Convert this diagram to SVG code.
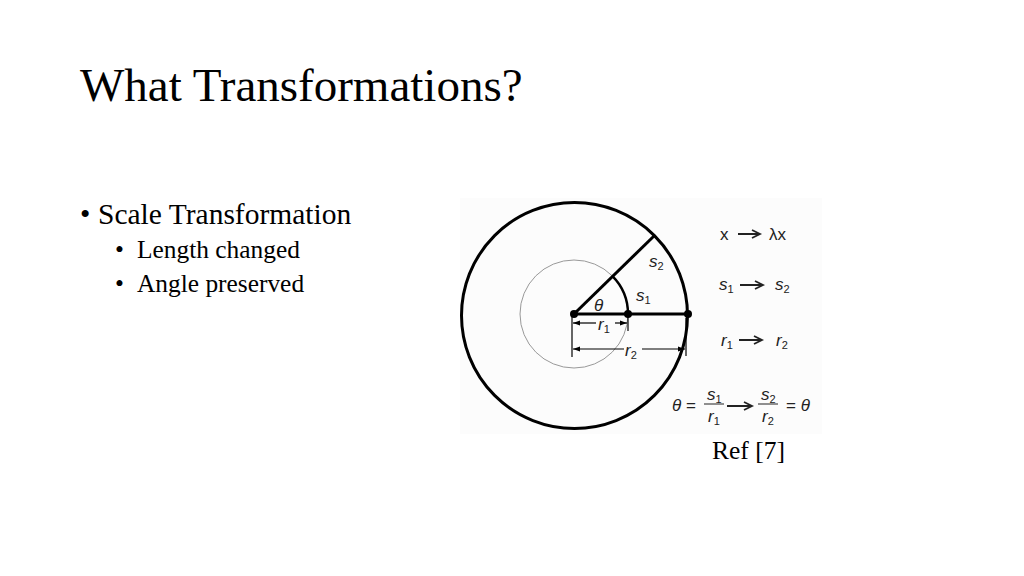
<svg xmlns="http://www.w3.org/2000/svg" width="1024" height="576" viewBox="0 0 1024 576">
<style>
.serif{font-family:"Liberation Serif","Times New Roman",serif;fill:#000}
.sans{font-family:"Liberation Sans",Arial,sans-serif;fill:#222;font-size:17px}
.it{font-style:italic}
.sub{font-size:11px;font-style:normal}
.thin{stroke:#000;stroke-width:1.2;fill:none}
.arr{stroke:#222;stroke-width:1.8;fill:none}
</style>
<defs>
<marker id="ah" viewBox="0 0 10 10" refX="10" refY="5" markerWidth="7" markerHeight="7" orient="auto-start-reverse" markerUnits="userSpaceOnUse">
<path d="M0,1.5 L10,5 L0,8.5 Z" fill="#000"/>
</marker>
</defs>
<rect width="1024" height="576" fill="#fff"/>
<text class="serif" x="80" y="101" font-size="47">What Transformations?</text>
<g id="bullets" class="serif">
<text x="80" y="224" font-size="29.5">•</text>
<text x="98" y="224" font-size="29.5">Scale Transformation</text>
<text x="115" y="258" font-size="25.4">•</text>
<text x="137" y="258" font-size="25.4">Length changed</text>
<text x="115" y="292" font-size="25.4">•</text>
<text x="137" y="292" font-size="25.4">Angle preserved</text>
</g>
<g id="figure">
<rect x="460" y="198" width="362" height="236" fill="#fcfcfc"/>
<circle cx="574.5" cy="315.5" r="113" fill="none" stroke="#000" stroke-width="3"/>
<circle cx="574" cy="314" r="54" fill="none" stroke="#999" stroke-width="1"/>
<path d="M612.2,275.8 A54,54 0 0 1 628,314" fill="none" stroke="#000" stroke-width="2.5"/>
<line x1="574" y1="314" x2="654" y2="236" stroke="#000" stroke-width="3"/>
<line x1="574" y1="314" x2="688" y2="314" stroke="#000" stroke-width="3"/>
<circle cx="574" cy="314" r="4" fill="#000"/>
<circle cx="628" cy="314" r="4" fill="#000"/>
<circle cx="688" cy="314" r="4" fill="#000"/>
<line x1="572" y1="314" x2="572" y2="357" class="thin"/>
<line x1="628" y1="316" x2="628" y2="331" class="thin"/>
<line x1="686" y1="318" x2="686" y2="356" class="thin"/>
</g>
<g id="connectors">
<line x1="573" y1="323" x2="596" y2="323" class="thin" marker-start="url(#ah)"/>
<line x1="615" y1="323" x2="627" y2="323" class="thin" marker-end="url(#ah)"/>
<line x1="573" y1="349" x2="624" y2="349" class="thin" marker-start="url(#ah)"/>
<line x1="642" y1="349" x2="685" y2="349" class="thin" marker-end="url(#ah)"/>
</g>
<g id="labels" class="sans">
<text x="594" y="311" class="it">θ</text>
<text x="598" y="330" class="it">r<tspan class="sub" dy="3">1</tspan></text>
<text x="625" y="356" class="it">r<tspan class="sub" dy="3">2</tspan></text>
<text x="636" y="301" class="it">s<tspan class="sub" dy="3">1</tspan></text>
<text x="649" y="267" class="it">s<tspan class="sub" dy="3">2</tspan></text>
</g>
<g id="rules" class="sans">
<text x="720" y="240">x</text>
<path d="M738,234 H759 M752,230 L760,234 L752,238" class="arr"/>
<text x="769" y="240">λx</text>
<text x="719" y="290" class="it">s<tspan class="sub" dy="3">1</tspan></text>
<path d="M740,285 H762 M755,281 L763,285 L755,289" class="arr"/>
<text x="775" y="290" class="it">s<tspan class="sub" dy="3">2</tspan></text>
<text x="721" y="346" class="it">r<tspan class="sub" dy="3">1</tspan></text>
<path d="M739,340 H761 M754,336 L762,340 L754,344" class="arr"/>
<text x="776" y="346" class="it">r<tspan class="sub" dy="3">2</tspan></text>
<text x="672" y="411"><tspan class="it">θ</tspan> =</text>
<text x="707" y="400" class="it">s<tspan class="sub" dy="3">1</tspan></text>
<line x1="704" y1="404" x2="724" y2="404" stroke="#222" stroke-width="1"/>
<text x="708" y="422" class="it">r<tspan class="sub" dy="3">1</tspan></text>
<path d="M727,406 H751 M744,402 L752,406 L744,410" class="arr"/>
<text x="761" y="400" class="it">s<tspan class="sub" dy="3">2</tspan></text>
<line x1="758" y1="404" x2="778" y2="404" stroke="#222" stroke-width="1"/>
<text x="762" y="422" class="it">r<tspan class="sub" dy="3">2</tspan></text>
<text x="786" y="411">= <tspan class="it">θ</tspan></text>
</g>
<text class="serif" x="712" y="459" font-size="25.5">Ref [7]</text>
</svg>
